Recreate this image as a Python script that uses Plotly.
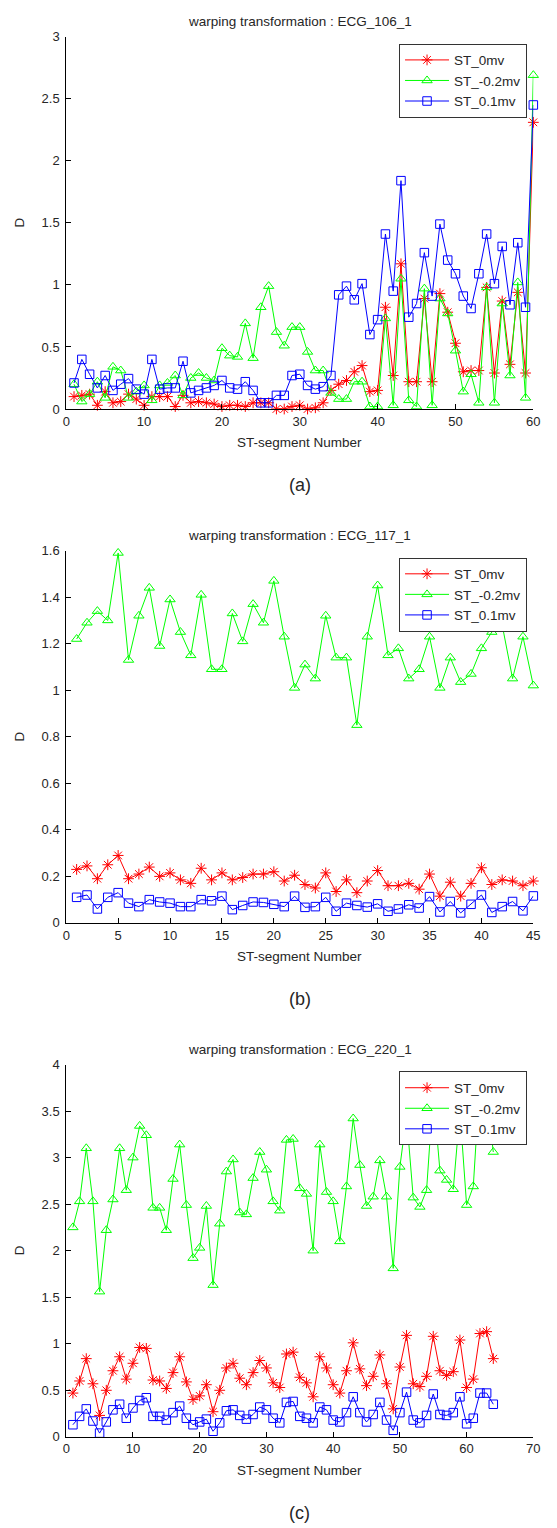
import plotly.graph_objects as go

W, H = 557, 1528

# ---------------- data ----------------
seg_a = list(range(1, 61))
st0_a = [0.10, 0.11, 0.12, 0.03, 0.14, 0.05, 0.06, 0.12, 0.08, 0.03,
         0.10, 0.10, 0.10, 0.02, 0.11, 0.05, 0.06, 0.05, 0.04, 0.02,
         0.03, 0.03, 0.02, 0.05, 0.05, 0.05, 0.00, 0.00, 0.02, 0.03,
         0.00, 0.01, 0.05, 0.15, 0.20, 0.23, 0.30, 0.35, 0.14, 0.15,
         0.82, 0.27, 1.17, 0.22, 0.22, 0.89, 0.22, 0.93, 0.78, 0.53,
         0.30, 0.31, 0.31, 0.98, 0.29, 0.87, 0.36, 0.94, 0.29, 2.31]
stm02_a = [0.20, 0.06, 0.12, 0.22, 0.09, 0.34, 0.31, 0.09, 0.14, 0.19,
           0.07, 0.19, 0.21, 0.27, 0.11, 0.25, 0.29, 0.25, 0.23, 0.49,
           0.43, 0.42, 0.69, 0.41, 0.82, 0.99, 0.62, 0.51, 0.66, 0.66,
           0.46, 0.31, 0.31, 0.13, 0.08, 0.08, 0.22, 0.22, 0.02, 0.02,
           0.73, 0.03, 1.05, 0.07, 0.02, 0.97, 0.03, 0.89, 0.77, 0.47,
           0.14, 0.28, 0.05, 0.98, 0.05, 0.85, 0.27, 1.02, 0.09, 2.69]
st01_a = [0.21, 0.40, 0.28, 0.17, 0.27, 0.15, 0.20, 0.245, 0.16, 0.12,
          0.40, 0.16, 0.17, 0.17, 0.385, 0.13, 0.15, 0.17, 0.19, 0.23,
          0.17, 0.16, 0.22, 0.15, 0.05, 0.05, 0.11, 0.11, 0.27, 0.28,
          0.19, 0.16, 0.18, 0.27, 0.92, 0.99, 0.88, 1.01, 0.60, 0.72,
          1.41, 0.95, 1.84, 0.74, 0.85, 1.26, 0.91, 1.49, 1.20, 1.09,
          0.91, 0.81, 1.09, 1.41, 1.01, 1.31, 0.84, 1.34, 0.82, 2.45]

seg_b = list(range(1, 46))
st0_b = [0.23, 0.245, 0.19, 0.25, 0.29, 0.19, 0.21, 0.24, 0.20, 0.215,
         0.185, 0.17, 0.235, 0.185, 0.215, 0.185, 0.195, 0.21, 0.21, 0.22,
         0.18, 0.205, 0.165, 0.15, 0.215, 0.135, 0.185, 0.13, 0.18, 0.225,
         0.16, 0.16, 0.17, 0.145, 0.21, 0.115, 0.175, 0.115, 0.17, 0.237,
         0.165, 0.185, 0.18, 0.16, 0.18]
stm02_b = [1.22, 1.29, 1.34, 1.30, 1.59, 1.13, 1.32, 1.44, 1.19, 1.39,
           1.25, 1.15, 1.41, 1.09, 1.09, 1.33, 1.21, 1.37, 1.29, 1.47,
           1.23, 1.01, 1.11, 1.05, 1.32, 1.14, 1.14, 0.85, 1.23, 1.45,
           1.15, 1.18, 1.05, 1.09, 1.23, 1.01, 1.14, 1.035, 1.07, 1.18,
           1.25, 1.28, 1.05, 1.23, 1.02]
st01_b = [0.11, 0.12, 0.06, 0.11, 0.13, 0.085, 0.07, 0.10, 0.09, 0.085,
          0.07, 0.07, 0.10, 0.095, 0.115, 0.057, 0.075, 0.09, 0.088, 0.08,
          0.07, 0.115, 0.067, 0.07, 0.11, 0.05, 0.085, 0.075, 0.068, 0.082,
          0.05, 0.06, 0.078, 0.064, 0.113, 0.047, 0.092, 0.043, 0.08, 0.12,
          0.045, 0.07, 0.092, 0.052, 0.116]

seg_c = list(range(1, 65))
st0_c = [0.47, 0.60, 0.84, 0.57, 0.23, 0.50, 0.71, 0.86, 0.62, 0.79,
         0.96, 0.95, 0.61, 0.60, 0.52, 0.69, 0.86, 0.59, 0.40, 0.44,
         0.56, 0.27, 0.50, 0.74, 0.79, 0.63, 0.56, 0.69, 0.82, 0.74,
         0.58, 0.53, 0.89, 0.91, 0.64, 0.58, 0.43, 0.86, 0.74, 0.56,
         0.47, 0.71, 1.01, 0.73, 0.55, 0.65, 0.88, 0.57, 0.30, 0.75,
         1.09, 0.57, 0.54, 0.65, 1.08, 0.71, 0.66, 0.70, 1.04, 0.53,
         0.62, 1.11, 1.13, 0.84]
stm02_c = [2.25, 2.53, 3.10, 2.53, 1.56, 2.22, 2.55, 3.10, 2.65, 3.00,
           3.34, 3.24, 2.46, 2.46, 2.22, 2.77, 3.14, 2.49, 1.92, 2.03,
           2.48, 1.63, 2.29, 2.85, 2.98, 2.41, 2.39, 2.78, 3.06, 2.87,
           2.53, 2.43, 3.19, 3.20, 2.67, 2.61, 2.00, 3.14, 2.63, 2.53,
           2.10, 2.69, 3.42, 2.92, 2.48, 2.58, 2.97, 2.58, 1.81, 2.90,
           3.45, 2.57, 2.47, 2.65, 3.70, 2.86, 2.76, 2.66, 3.50, 2.49,
           2.69, 3.85, 3.70, 3.06]
st01_c = [0.13, 0.22, 0.30, 0.17, 0.04, 0.16, 0.29, 0.35, 0.20, 0.31,
          0.39, 0.42, 0.22, 0.22, 0.18, 0.26, 0.33, 0.20, 0.13, 0.16,
          0.19, 0.06, 0.15, 0.28, 0.29, 0.23, 0.19, 0.24, 0.32, 0.29,
          0.20, 0.15, 0.37, 0.38, 0.22, 0.20, 0.15, 0.32, 0.29, 0.18,
          0.16, 0.26, 0.43, 0.26, 0.16, 0.24, 0.37, 0.18, 0.07, 0.26,
          0.48, 0.18, 0.15, 0.23, 0.46, 0.24, 0.23, 0.26, 0.43, 0.14,
          0.20, 0.47, 0.47, 0.35]

series_names = ["ST_0mv", "ST_-0.2mv", "ST_0.1mv"]
titles = ["warping transformation : ECG_106_1",
          "warping transformation : ECG_117_1",
          "warping transformation : ECG_220_1"]
panel_labels = ["(a)", "(b)", "(c)"]
x_label = "ST-segment Number"
y_label = "D"
x_max = [60, 45, 70]
x_step = [10, 5, 10]
y_max = [3, 1.6, 4]
y_step = [0.5, 0.2, 0.5]

# ---------------- layout helpers ----------------
FONT = "Liberation Sans, Arial, Helvetica, sans-serif"
TXT = "#262626"
colors = ["#ff0000", "#00ff00", "#0000ff"]
symbols = ["asterisk-open", "triangle-up-open", "square-open"]
msizes = [9, 9, 8.5]

PERIOD = 519
TOP0, BOT0 = 30, 406
X_L, X_R = 63.5, 540

fig = go.Figure()
data = [(seg_a, [st0_a, stm02_a, st01_a]),
        (seg_b, [st0_b, stm02_b, st01_b]),
        (seg_c, [st0_c, stm02_c, st01_c])]

annotations = []
layout_axes = {}
for i, (segs, ys) in enumerate(data):
    k = "" if i == 0 else str(i + 1)
    top = TOP0 + i * PERIOD
    bot = BOT0 + i * PERIOD
    leg = "legend" + k
    for j in range(3):
        fig.add_trace(go.Scatter(
            x=segs, y=ys[j], mode="lines+markers", name=series_names[j],
            xaxis="x" + k, yaxis="y" + k, legend=leg, cliponaxis=False,
            line=dict(color=colors[j], width=1),
            marker=dict(symbol=symbols[j], size=msizes[j], color=colors[j],
                        line=dict(color=colors[j], width=1)),
        ))
    layout_axes["xaxis" + k] = dict(
        domain=[X_L / W, X_R / W], anchor="y" + k,
        range=[0, x_max[i]], tickmode="linear", tick0=0, dtick=x_step[i],
        showline=True, linecolor="black", linewidth=1, mirror=False,
        ticks="inside", ticklen=5, tickcolor="black", showgrid=False,
        zeroline=False, tickfont=dict(family=FONT, size=13, color=TXT),
    )
    layout_axes["yaxis" + k] = dict(
        domain=[1 - bot / H, 1 - top / H], anchor="x" + k,
        range=[0, y_max[i]], tickmode="linear", tick0=0, dtick=y_step[i],
        showline=True, linecolor="black", linewidth=1, mirror=False,
        ticks="inside", ticklen=5, tickcolor="black", showgrid=False,
        zeroline=False, tickfont=dict(family=FONT, size=13, color=TXT),
        ticklabelstandoff=3,
    )
    layout_axes[leg] = dict(
        x=403 / W, y=1 - (top + 7) / H, xanchor="left", yanchor="top",
        bgcolor="white", bordercolor="#333333", borderwidth=1,
        font=dict(family=FONT, size=13.5, color=TXT),
        itemwidth=44, tracegroupgap=0,
    )
    cx = (X_L + X_R) / 2 / W
    annotations += [
        dict(text=titles[i], x=cx, y=1 - (15 + i * PERIOD) / H, xref="paper", yref="paper",
             showarrow=False, font=dict(family=FONT, size=13.5, color=TXT),
             xanchor="center", yanchor="middle"),
        dict(text=x_label, x=cx, y=1 - (440 + i * PERIOD) / H, xref="paper", yref="paper",
             showarrow=False, font=dict(family=FONT, size=13.5, color=TXT),
             xanchor="center", yanchor="middle"),
        dict(text=panel_labels[i], x=cx, y=1 - (483 + i * PERIOD) / H, xref="paper", yref="paper",
             showarrow=False, font=dict(family=FONT, size=18, color=TXT),
             xanchor="center", yanchor="middle"),
        dict(text=y_label, x=16 / W, y=1 - ((top + bot) / 2) / H, xref="paper", yref="paper",
             showarrow=False, textangle=-90, font=dict(family=FONT, size=13.5, color=TXT),
             xanchor="center", yanchor="middle"),
    ]

fig.update_layout(
    width=W, height=H, margin=dict(l=0, r=0, t=0, b=0),
    paper_bgcolor="white", plot_bgcolor="white",
    annotations=annotations, **layout_axes,
)
fig.write_html("out.html")
